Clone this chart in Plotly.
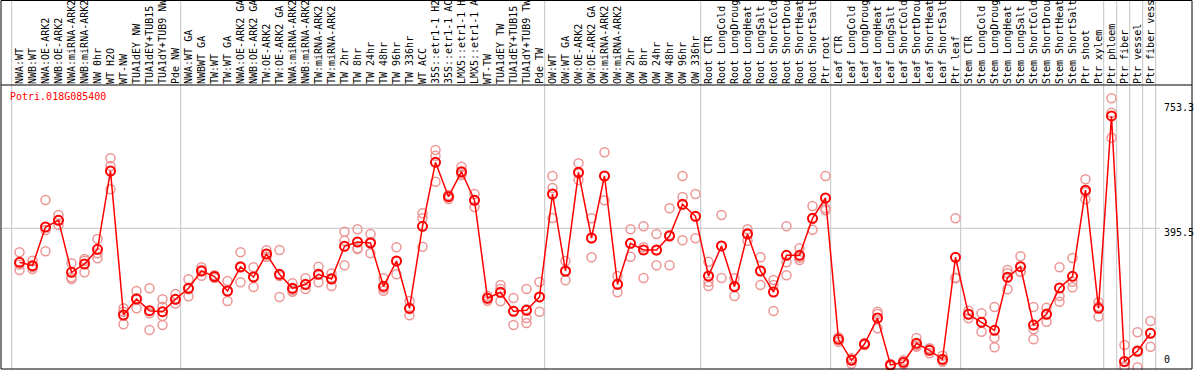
import plotly.graph_objects as go

categories = [
    "NWA:WT", "NWB:WT", "NWA:OE-ARK2", "NWB:OE-ARK2", "NWA:miRNA-ARK2", "NWB:miRNA-ARK2",
    "NW 0hr", "WT H2O", "WT-NW", "TUA1dEY NW", "TUA1dEY+TUB15 NW", "TUA1dY+TUB9 NW", "Pde NW",
    "NWA:WT GA", "NWBWT GA", "TW:WT", "TW:WT GA", "NWA:OE-ARK2 GA", "NWB:OE-ARK2 GA",
    "TW:OE-ARK2", "TW:OE-ARK2 GA", "NWA:miRNA-ARK2 GA", "NWB:miRNA-ARK2 GA", "TW:miRNA-ARK2",
    "TW:miRNA-ARK2 GA", "TW 2hr", "TW 8hr", "TW 24hr", "TW 48hr", "TW 96hr", "TW 336hr",
    "WT ACC", "35S::etr1-1 H2O", "35S::etr1-1 ACC", "LMX5::etr1-1 H2O", "LMX5::etr1-1 ACC",
    "WT-TW", "TUA1dEY TW", "TUA1dEY+TUB15 TW", "TUA1dY+TUB9 TW", "Pde TW",
    "OW:WT", "OW:WT GA", "OW:OE-ARK2", "OW:OE-ARK2 GA", "OW:miRNA-ARK2", "OW:miRNA-ARK2 GA",
    "OW 2hr", "OW 8hr", "OW 24hr", "OW 48hr", "OW 96hr", "OW 336hr",
    "Root CTR", "Root LongCold", "Root LongDrought", "Root LongHeat", "Root LongSalt",
    "Root ShortCold", "Root ShortDrought", "Root ShortHeat", "Root ShortSalt", "Ptr root",
    "Leaf CTR", "Leaf LongCold", "Leaf LongDrought", "Leaf LongHeat", "Leaf LongSalt",
    "Leaf ShortCold", "Leaf ShortDrought", "Leaf ShortHeat", "Leaf ShortSalt", "Ptr leaf",
    "Stem CTR", "Stem LongCold", "Stem LongDrought", "Stem LongHeat", "Stem LongSalt",
    "Stem ShortCold", "Stem ShortDrought", "Stem ShortHeat", "Stem ShortSalt", "Ptr shoot",
    "Ptr xylem", "Ptr phloem", "Ptr fiber", "Ptr vessel", "Ptr fiber vessel",
]

mean_values = [
    298.7, 289.0, 399.1, 418.2, 270.2, 293.8, 335.7, 558.6, 148.6, 194.2, 160.9, 158.0, 193.3,
    224.6, 273.9, 258.2, 216.9, 285.3, 256.8, 322.3, 264.5, 224.6, 236.0, 264.5, 251.1, 344.2,
    356.4, 353.6, 230.3, 302.4, 167.7, 401.1, 583.4, 485.4, 556.6, 475.2, 196.2, 213.2, 159.1,
    162.0, 199.9,
    493.1, 273.9, 554.9, 367.8, 544.3, 236.0, 352.7, 333.7, 333.7, 373.5, 463.8, 429.6,
    259.6, 345.1, 229.2, 379.2, 273.9, 214.1, 318.6, 318.6, 423.9, 481.7,
    79.4, 19.6, 66.0, 140.1, 6.3, 14.0, 68.0, 48.1, 22.5, 312.9,
    150.6, 127.8, 105.1, 255.9, 286.1, 120.1, 150.6, 225.5, 258.8, 503.9, 167.7,
    715.2, 16.2, 46.1, 96.5,
]

replicate_values = [
    [327.1, 276.7, 292.1], [303.2, 279.6, 285.3], [476.0, 390.6, 330.0], [433.3, 404.9, 419.1],
    [295.8, 255.9, 251.1], [308.0, 270.2, 303.2], [365.0, 324.3, 310.0], [594.7, 572.8, 506.5],
    [167.7, 122.1, 158.0], [216.9, 167.7, 196.2], [224.6, 105.9, 153.5],
    [193.3, 120.1, 172.2, 145.8], [208.4, 181.4, 194.2],
    [250.3, 202.1, 221.8], [284.4, 260.5, 276.7], [261.6, 254.0, 257.7], [245.4, 188.5, 216.9],
    [327.1, 241.7, 287.3], [284.4, 228.3, 257.7], [332.8, 314.6, 322.3], [333.7, 199.9, 259.6],
    [238.9, 215.0, 219.8], [253.1, 222.6, 234.0], [286.1, 241.7, 265.3], [266.8, 231.2, 254.0],
    [385.8, 360.1, 290.1], [392.6, 338.5, 336.5], [379.2, 324.3, 356.4], [253.1, 217.8, 224.6],
    [341.4, 264.5, 300.9], [188.5, 147.8, 165.7], [438.2, 423.9, 343.1], [618.4, 602.1, 528.1],
    [490.3, 478.9, 487.4], [570.8, 552.0, 547.2], [493.1, 456.1, 476.0], [202.7, 189.3, 196.2],
    [234.0, 222.6, 187.6], [197.0, 120.1, 160.0], [222.6, 165.0, 140.0, 125.8],
    [242.6, 158.0, 199.9],
    [544.3, 510.2, 424.8], [302.4, 247.4, 271.9], [580.5, 533.0, 551.5], [423.9, 312.9, 367.0],
    [611.8, 475.2, 544.3], [259.6, 213.2, 235.4], [392.6, 314.6, 352.2], [401.1, 341.4, 254.0],
    [379.2, 290.1, 332.2], [452.4, 290.1, 376.4], [544.3, 484.6, 361.3], [493.1, 367.0, 429.0],
    [300.4, 243.4, 231.2], [433.3, 254.0, 345.1], [253.1, 202.7, 231.2], [392.6, 360.1, 382.1],
    [312.9, 234.0, 273.9], [248.3, 234.0, 160.0], [401.1, 298.7, 261.6], [338.5, 305.2, 312.3],
    [458.9, 391.5, 421.9], [544.3, 452.4, 446.7],
    [85.1, 72.6, 80.3], [25.3, 10.0, 23.3], [66.0, 68.9, 63.2], [158.0, 110.7, 151.5],
    [6.3, 9.1, 3.4], [19.6, 8.3, 14.0], [83.1, 62.3, 58.4], [53.8, 39.6, 51.0],
    [32.7, 15.7, 19.1], [423.9, 254.8, 253.1],
    [160.9, 139.2, 151.5], [153.5, 101.1, 128.7], [171.4, 84.0, 56.7], [276.7, 267.3, 221.8],
    [315.7, 271.9, 271.0], [171.4, 107.9, 79.4], [169.4, 129.5, 152.9], [284.4, 202.7, 186.5],
    [310.9, 243.4, 227.5], [534.9, 478.0, 498.8], [184.8, 144.3, 172.8],
    [765.6, 724.6, 653.4], [63.0, 0.0, 3.0], [99.4, 0.0, 43.0], [131.6, 58.4, 97.4],
]

group_starts = [0, 13, 41, 53, 63, 73, 84, 85, 86, 87, 88]
y_tick_values = [0, 395.5, 753.3]
y_tick_labels = ["0", "395.5", "753.3"]
gene_name = "Potri.018G085400"

assert len(categories) == len(mean_values) == len(replicate_values) == 88

W, H = 1194, 370
ML, MR, MT, MB = 1, 2, 85, 1
plot_w = W - ML - MR
plot_h = H - MT - MB
step = 13.0
x_lo = -(19.5 - ML) / step
x_hi = x_lo + plot_w / step
y_lo, y_hi = -5.12, 803.4

MONO = "DejaVu Sans Mono"
RED = "#ff0000"
PINK = "rgb(236,150,150)"
GREY = "#c4c4c4"

idx = list(range(len(categories)))
rep_x, rep_y = [], []
for i, vals in enumerate(replicate_values):
    for v in vals:
        rep_x.append(i)
        rep_y.append(v)

fig = go.Figure()
fig.add_trace(go.Scatter(
    x=rep_x, y=rep_y, mode="markers", cliponaxis=False,
    marker=dict(symbol="circle-open", size=9, color=PINK, line=dict(width=1.5, color=PINK)),
    hoverinfo="skip", showlegend=False,
))
fig.add_trace(go.Scatter(
    x=idx, y=mean_values, mode="lines+markers", cliponaxis=False,
    line=dict(color=RED, width=1.5),
    marker=dict(symbol="circle-open", size=9, color=RED, line=dict(width=2, color=RED)),
    showlegend=False,
))

top_paper = (H - MB - 0.5) / plot_h
shapes = []
for s in group_starts:
    xv = s - 0.6
    shapes.append(dict(type="line", xref="x", yref="paper", x0=xv, x1=xv, y0=0, y1=top_paper,
                       line=dict(color=GREY, width=1), layer="below"))
shapes.append(dict(type="line", xref="x", yref="y", x0=x_lo, x1=87.7, y0=395.5, y1=395.5,
                   line=dict(color=GREY, width=1), layer="below"))
blk = dict(color="black", width=1)
shapes += [
    dict(type="line", xref="paper", yref="paper", x0=0, x1=1, y0=1, y1=1, line=blk),
    dict(type="line", xref="paper", yref="paper", x0=0, x1=1, y0=0, y1=0, line=blk),
    dict(type="line", xref="paper", yref="paper", x0=0, x1=1, y0=top_paper, y1=top_paper, line=blk),
    dict(type="line", xref="paper", yref="paper", x0=0, x1=0, y0=0, y1=top_paper, line=blk),
    dict(type="line", xref="paper", yref="paper", x0=1, x1=1, y0=0, y1=top_paper, line=blk),
]

annotations = [dict(
    text=gene_name, xref="paper", yref="paper", x=(8 - ML) / plot_w, y=(H - MB - 96.5) / plot_h,
    xanchor="left", yanchor="middle", showarrow=False, font=dict(family=MONO, size=10, color=RED),
)]
for v, t in zip(y_tick_values, y_tick_labels):
    annotations.append(dict(
        text=t, xref="x", yref="y", x=87.85, y=v,
        xanchor="left", yanchor="bottom" if v == 0 else "top",
        yshift=0 if v == 0 else 3, showarrow=False,
        font=dict(family=MONO, size=10, color="black"),
    ))

fig.update_layout(
    template="none",
    width=W, height=H,
    margin=dict(l=ML, r=MR, t=MT, b=MB, pad=0),
    paper_bgcolor="white", plot_bgcolor="white",
    showlegend=False,
    xaxis=dict(
        range=[x_lo, x_hi], side="top", tickmode="array", tickvals=idx, ticktext=categories,
        tickangle=-90, ticks="", showgrid=False, zeroline=False, showline=False,
        automargin=False, ticklabeloverflow="allow",
        tickfont=dict(family=MONO, size=10, color="black"),
    ),
    yaxis=dict(
        range=[y_lo, y_hi], showticklabels=False, ticks="", showgrid=False, zeroline=False,
        showline=False, automargin=False,
    ),
    shapes=shapes,
    annotations=annotations,
)

fig.write_html(
    "out.html",
    config={"displayModeBar": False},
    post_script="document.body.style.margin='0';document.body.style.overflow='hidden';",
)
